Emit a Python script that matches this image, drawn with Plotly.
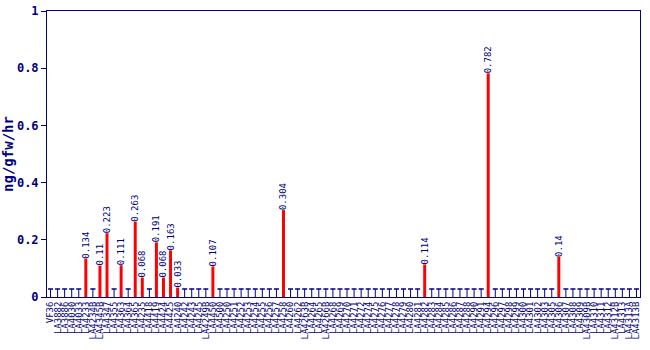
import plotly.graph_objects as go

categories = [
    "VF36", "LA3882", "LA3886", "LA4030", "LA4033", "LA4233", "LA4234B", "LA4345B",
    "LA4347", "LA4355", "LA4363", "LA4364", "LA4365", "LA4235", "LA4418", "LA4419",
    "LA4424", "LA4425", "LA4240", "LA4242", "LA4243", "LA4245", "LA4249B", "LA4450",
    "LA4500", "LA4250", "LA4251", "LA4252", "LA4253", "LA4254", "LA4255", "LA4256",
    "LA4257", "LA4258", "LA4260", "LA4262", "LA4263B", "LA4264", "LA4265", "LA4266B",
    "LA4268", "LA4269", "LA4270", "LA4271", "LA4272", "LA4274", "LA4275", "LA4276",
    "LA4277", "LA4278", "LA4279", "LA4280", "LA4281", "LA4282", "LA4283", "LA4284",
    "LA4285", "LA4286", "LA4287", "LA4288", "LA4290", "LA4291", "LA4294", "LA4296",
    "LA4297", "LA4298", "LA4299", "LA4300", "LA4301", "LA4302", "LA4303", "LA4305",
    "LA4306", "LA4307", "LA4308", "LA4309", "LA4309B", "LA4310", "LA4311", "LA4312",
    "LA4312B", "LA4313", "LA4313A", "LA4313B",
]

values = [0.0] * len(categories)
nonzero = {5: 0.134, 7: 0.11, 8: 0.223, 10: 0.111, 12: 0.263, 13: 0.068, 15: 0.191,
           16: 0.068, 17: 0.163, 18: 0.033, 23: 0.107, 33: 0.304, 53: 0.114,
           62: 0.782, 72: 0.14}
for i, v in nonzero.items():
    values[i] = v

NAVY = "#000080"
labels = [("%g" % v) if v > 0 else "" for v in values]
zero_cats = [c for c, v in zip(categories, values) if v == 0]

fig = go.Figure()
fig.add_trace(go.Bar(
    x=categories, y=values, marker_color="#ff0000", marker_line_width=0,
    width=0.42, text=labels, textposition="outside", textangle=-90,
    constraintext="none", cliponaxis=False,
    textfont=dict(family="DejaVu Sans Mono", size=9, color=NAVY),
))
# zero markers: stem + cap
fig.add_trace(go.Scatter(
    x=zero_cats, y=[0.014] * len(zero_cats), mode="markers",
    marker=dict(symbol="line-ns", size=5.7, line=dict(color=NAVY, width=1)),
    hoverinfo="skip", cliponaxis=False,
))
fig.add_trace(go.Scatter(
    x=zero_cats, y=[0.028] * len(zero_cats), mode="markers",
    marker=dict(symbol="line-ew", size=3.6, line=dict(color=NAVY, width=1.5)),
    hoverinfo="skip", cliponaxis=False,
))

fig.update_layout(
    width=650, height=350, showlegend=False,
    margin=dict(l=47, r=10, t=11, b=53, autoexpand=False),
    paper_bgcolor="white", plot_bgcolor="white",
    bargap=0.5,
)
fig.update_xaxes(
    type="category", tickangle=-90, showgrid=False, automargin=False,
    tickmode="linear", dtick=1, range=[-0.5, len(categories) - 0.5],
    tickfont=dict(family="DejaVu Sans Mono", size=9, color=NAVY),
    showline=True, linecolor=NAVY, linewidth=1, mirror=True, ticks="",
)
fig.update_yaxes(
    range=[0, 1], dtick=0.2, showgrid=False, zeroline=False, automargin=False,
    showline=True, linecolor=NAVY, linewidth=1, mirror=True,
    ticks="outside", ticklen=5, tickcolor=NAVY,
    tickfont=dict(family="DejaVu Sans Mono", size=12, color=NAVY, weight="bold"),
    title=dict(text="ng/gfw/hr", standoff=0,
               font=dict(family="DejaVu Sans Mono", size=14, color=NAVY, weight="bold")),
)

fig.write_html("out.html")
